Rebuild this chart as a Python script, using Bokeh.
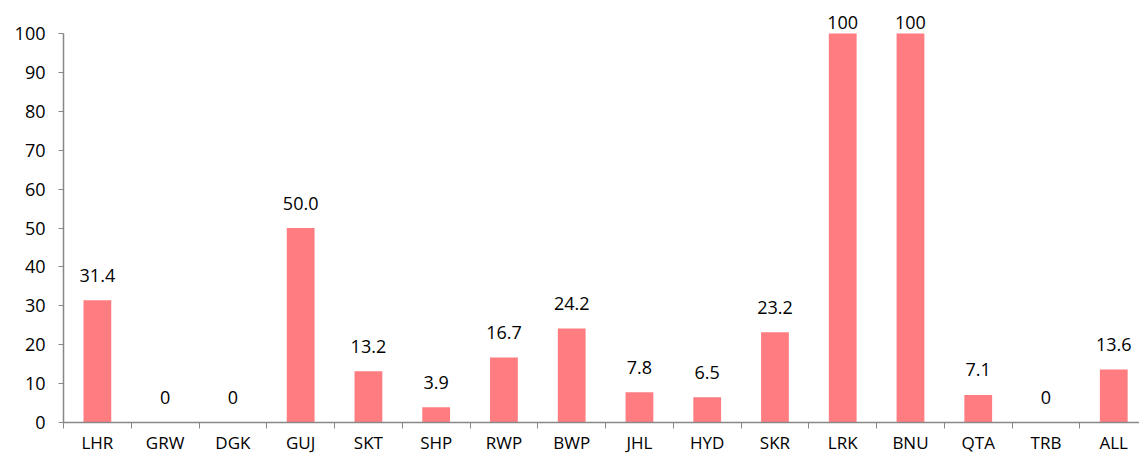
from bokeh.plotting import figure
from bokeh.models import Range1d, FixedTicker, ColumnDataSource
from bokeh.embed import file_html
from bokeh.resources import INLINE
from bokeh.core.properties import value

categories = ["LHR", "GRW", "DGK", "GUJ", "SKT", "SHP", "RWP", "BWP",
              "JHL", "HYD", "SKR", "LRK", "BNU", "QTA", "TRB", "ALL"]
values = [31.4, 0, 0, 50.0, 13.2, 3.9, 16.7, 24.2, 7.8, 6.5, 23.2, 100, 100, 7.1, 0, 13.6]
value_labels = ["31.4", "0", "0", "50.0", "13.2", "3.9", "16.7", "24.2",
                "7.8", "6.5", "23.2", "100", "100", "7.1", "0", "13.6"]
y_ticks = [0, 10, 20, 30, 40, 50, 60, 70, 80, 90, 100]

FONT = "Open Sans"
BAR_COLOR = "#FF7C80"
AXIS_COLOR = "#888888"
LABEL_CAP = 96.4  # labels of full bars are kept inside the plot area

xs = list(range(len(categories)))
label_y = [min(v, LABEL_CAP) for v in values]
src = ColumnDataSource(dict(x=xs, top=values, ly=label_y, lab=value_labels))

p = figure(width=1139, height=456, output_backend="svg", toolbar_location=None,
           x_range=Range1d(-0.5, 15.38), y_range=Range1d(0, 108.5),
           min_border_left=63, min_border_right=0, min_border_top=0,
           min_border_bottom=0)
p.outline_line_color = None
p.xgrid.grid_line_color = None
p.ygrid.grid_line_color = None
p.background_fill_color = "white"
p.border_fill_color = "white"

p.vbar(x="x", top="top", width=0.41, bottom=0, source=src,
       fill_color=BAR_COLOR, line_color=None)
p.text(x="x", y="ly", text="lab", source=src, text_align="center",
       text_baseline="alphabetic", y_offset=-25, text_font=value(FONT),
       text_font_size="18px", text_color="black")

# x axis
p.xaxis.ticker = FixedTicker(ticks=xs, minor_ticks=[i - 0.5 for i in range(len(categories) + 1)])
p.xaxis.major_label_overrides = {i: c for i, c in enumerate(categories)}
p.xaxis.major_tick_line_color = None
p.xaxis.minor_tick_line_color = AXIS_COLOR
p.xaxis.minor_tick_in = 0
p.xaxis.minor_tick_out = 6
p.xaxis.axis_line_color = AXIS_COLOR
p.xaxis.axis_line_width = 1.5
p.xaxis.major_label_text_font = FONT
p.xaxis.major_label_text_font_size = "17px"
p.xaxis.major_label_text_color = "black"
p.xaxis.major_label_standoff = 2

# y axis
p.yaxis.ticker = FixedTicker(ticks=y_ticks)
p.yaxis.bounds = (0, 100)
p.yaxis.minor_tick_line_color = None
p.yaxis.major_tick_in = 0
p.yaxis.major_tick_out = 5
p.yaxis.major_tick_line_color = AXIS_COLOR
p.yaxis.axis_line_color = AXIS_COLOR
p.yaxis.axis_line_width = 1.5
p.yaxis.major_label_text_font = FONT
p.yaxis.major_label_text_font_size = "18px"
p.yaxis.major_label_text_color = "black"
p.yaxis.major_label_standoff = 13

open("out.html", "w").write(file_html(p, INLINE))
